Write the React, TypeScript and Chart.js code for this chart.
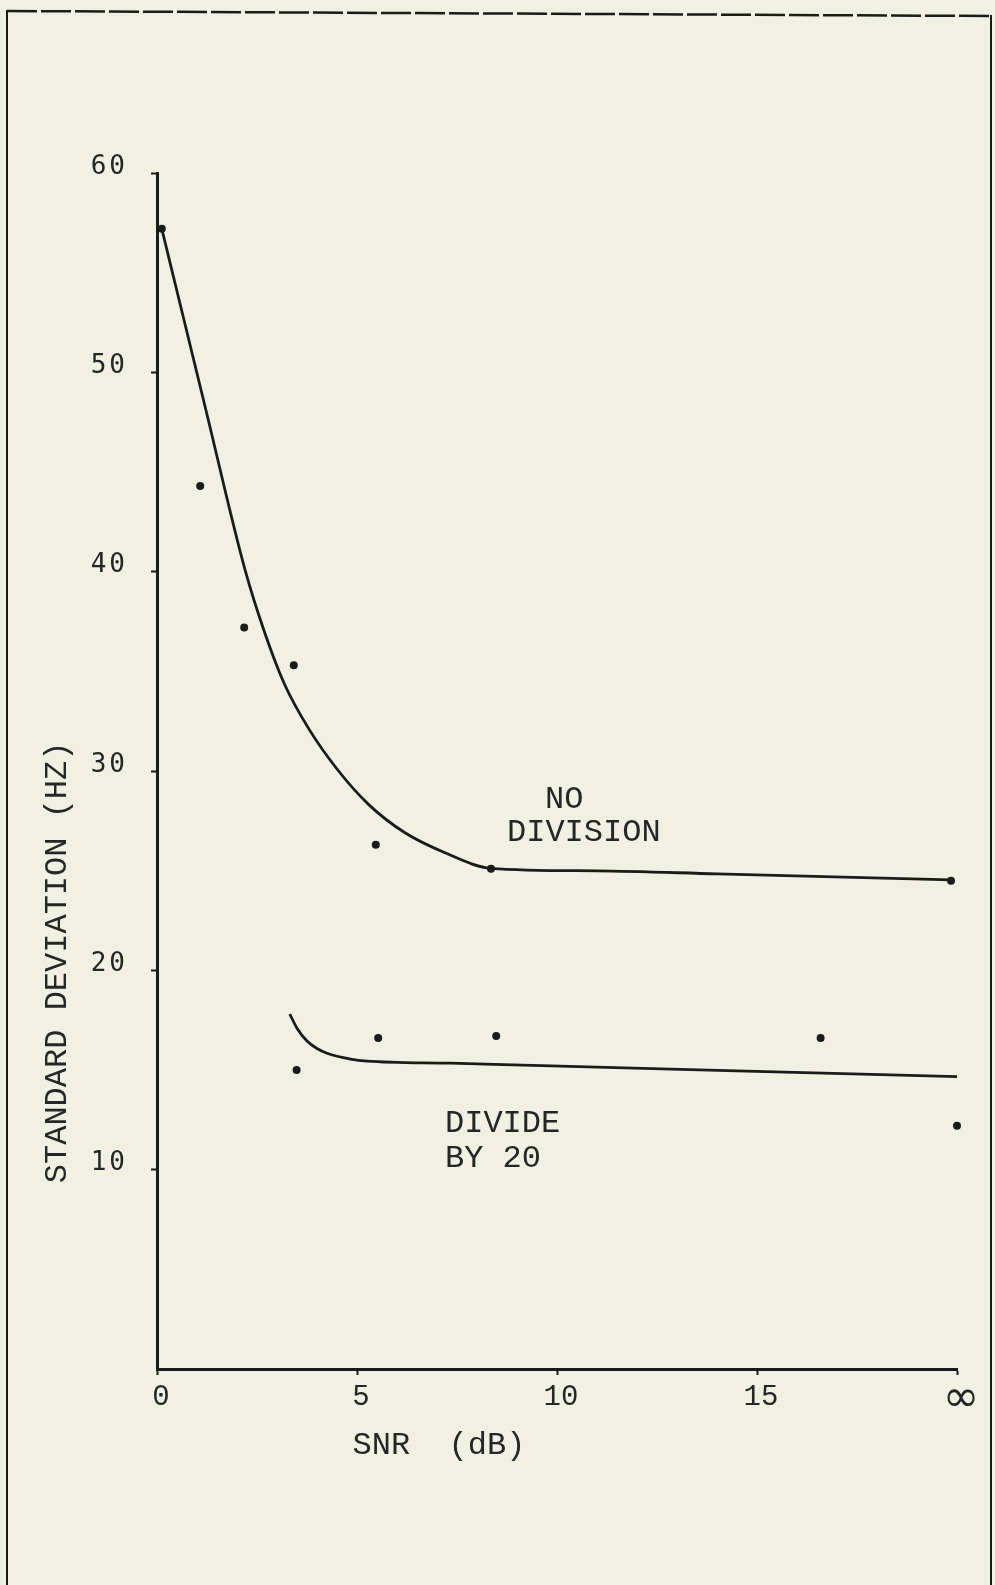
import React, { useEffect, useRef } from 'react';
import { Chart, registerables } from 'chart.js';

Chart.register(...registerables);

// ---- data ----
// x axis: SNR (dB); the "∞" tick is plotted at 20
const xTickValues = [0, 5, 10, 15, 20];
const xTickLabels = ['0', '5', '10', '15', '∞'];
const yTickValues = [10, 20, 30, 40, 50, 60];
const yTickLabels = ['10', '20', '30', '40', '50', '60'];

// measured points, "NO DIVISION"
const noDivPointsX = [0.12, 1.08, 2.18, 3.42, 5.47, 8.35, 19.85];
const noDivPointsY = [57.2, 44.3, 37.2, 35.3, 26.3, 25.1, 24.5];
// measured points, "DIVIDE BY 20"
const divPointsX = [3.49, 5.53, 8.48, 16.59, 20.0];
const divPointsY = [15.0, 16.6, 16.7, 16.6, 12.2];

// hand-drawn fitted curves
const noDivCurveX = [0.12, 1.2, 2.2, 2.7, 3.2, 3.8, 4.5, 5.3, 6.2, 7.2, 8.35, 11, 14, 19.85];
const noDivCurveY = [57.2, 48.3, 40.1, 36.9, 34.3, 32.1, 30.1, 28.3, 26.9, 25.9, 25.12, 24.99, 24.84, 24.54];
const divCurveX = [3.32, 3.5, 3.75, 4.0, 4.25, 4.84, 5.26, 7.34, 9.85, 14.26, 20.0];
const divCurveY = [17.8, 17.1, 16.45, 16.08, 15.84, 15.55, 15.45, 15.34, 15.21, 14.97, 14.67];

const xTitle = 'SNR  (dB)';
const yTitle = 'STANDARD DEVIATION (HZ)';
const curveLabelTexts = ['NO', 'DIVISION', 'DIVIDE', 'BY 20'];

// ---- styling / placement ----
const PAPER = '#f1f1e3';
const INK = '#1b1b1b';
const TEXT = '#262626';
const MONO = '"Liberation Mono", "Courier New", monospace';
const SANSMONO = '"DejaVu Sans Mono", monospace';

// anchors (in data units) for the in-plot labels and the axis titles
const labelAnchors = [
  { x: 9.7, y: 28.55 },
  { x: 8.75, y: 26.9 },
  { x: 7.2, y: 12.3 },
  { x: 7.2, y: 10.55 },
];
const X_TITLE_AT = 7.05;
const Y_TITLE_AT = 20.4;

const zip = (xs: number[], ys: number[]) => xs.map((x, i) => ({ x, y: ys[i] }));

const paperPlugin = {
  id: 'paper',
  beforeDraw(chart: any) {
    const { ctx, width, height } = chart;
    ctx.save();
    ctx.letterSpacing = '0px';
    ctx.fillStyle = PAPER;
    ctx.fillRect(0, 0, width, height);
    ctx.strokeStyle = INK;
    ctx.lineWidth = 2.5;
    ctx.setLineDash([30, 4]);
    ctx.beginPath();
    ctx.moveTo(7, 11);
    ctx.lineTo(991, 16);
    ctx.stroke();
    ctx.setLineDash([]);
    ctx.lineWidth = 2;
    ctx.beginPath();
    ctx.moveTo(7, 10);
    ctx.lineTo(7, height);
    ctx.moveTo(991, 15);
    ctx.lineTo(991, height);
    ctx.stroke();
    ctx.restore();
    ctx.letterSpacing = '0px';
  },
  afterDatasetsDraw(chart: any) {
    // y tick labels (drawn after datasets, z=1) get the typewriter spacing
    chart.ctx.letterSpacing = '3px';
  },
  afterDraw(chart: any) {
    const ctx = chart.ctx;
    ctx.letterSpacing = '0px';
    const xs = chart.scales.x;
    const ys = chart.scales.y;
    const area = chart.chartArea;
    ctx.save();
    ctx.fillStyle = TEXT;
    ctx.font = `32px ${MONO}`;
    ctx.textBaseline = 'middle';
    ctx.textAlign = 'left';
    curveLabelTexts.forEach((t, i) => {
      ctx.fillText(t, xs.getPixelForValue(labelAnchors[i].x), ys.getPixelForValue(labelAnchors[i].y));
    });
    ctx.textAlign = 'center';
    ctx.fillText(xTitle, xs.getPixelForValue(X_TITLE_AT), area.bottom + 77);
    ctx.translate(area.left - 99, ys.getPixelForValue(Y_TITLE_AT));
    ctx.rotate(-Math.PI / 2);
    ctx.fillText(yTitle, 0, 0);
    ctx.restore();
  },
};

export default function App() {
  const ref = useRef<HTMLCanvasElement | null>(null);

  useEffect(() => {
    document.body.style.margin = '0';
    const canvas = ref.current;
    if (!canvas) return;
    const chart = new Chart(canvas, {
      type: 'scatter',
      data: {
        datasets: [
          {
            label: 'NO DIVISION (curve)',
            data: zip(noDivCurveX, noDivCurveY),
            showLine: true,
            borderColor: INK,
            borderWidth: 2.8,
            pointRadius: 0,
            cubicInterpolationMode: 'monotone',
            clip: false,
          },
          {
            label: 'DIVIDE BY 20 (curve)',
            data: zip(divCurveX, divCurveY),
            showLine: true,
            borderColor: INK,
            borderWidth: 2.8,
            pointRadius: 0,
            cubicInterpolationMode: 'monotone',
            clip: false,
          },
          {
            label: 'NO DIVISION',
            data: zip(noDivPointsX, noDivPointsY),
            showLine: false,
            pointRadius: 4,
            pointBackgroundColor: INK,
            pointBorderWidth: 0,
            clip: false,
          },
          {
            label: 'DIVIDE BY 20',
            data: zip(divPointsX, divPointsY),
            showLine: false,
            pointRadius: 4,
            pointBackgroundColor: INK,
            pointBorderWidth: 0,
            clip: false,
          },
        ],
      } as any,
      options: {
        responsive: false,
        animation: false,
        devicePixelRatio: 1,
        events: [],
        layout: { padding: { left: 67, right: 38, top: 173, bottom: 116 } },
        plugins: {
          legend: { display: false },
          tooltip: { enabled: false },
          title: { display: false },
        },
        scales: {
          x: {
            type: 'linear',
            min: 0,
            max: 20,
            afterBuildTicks: (s: any) => {
              s.ticks = xTickValues.map((v) => ({ value: v }));
            },
            afterFit: (s: any) => {
              s.height = 100;
            },
            border: { display: true, color: INK, width: 3 },
            grid: {
              display: true,
              drawOnChartArea: false,
              drawTicks: true,
              tickLength: 6,
              tickColor: INK,
              tickWidth: 2,
              color: INK,
            },
            ticks: {
              z: 0,
              padding: 5,
              labelOffset: 4,
              color: TEXT,
              autoSkip: false,
              maxRotation: 0,
              font: (c: any) =>
                c.index === xTickValues.length - 1
                  ? { family: '"DejaVu Sans", sans-serif', size: 44, lineHeight: 0.9 }
                  : { family: MONO, size: 29 },
              callback: (_v: any, i: number) => xTickLabels[i],
            },
          },
          y: {
            type: 'linear',
            min: 0,
            max: 60,
            afterBuildTicks: (s: any) => {
              s.ticks = yTickValues.map((v) => ({ value: v }));
            },
            afterFit: (s: any) => {
              s.width = 90;
            },
            border: { display: true, color: INK, width: 3 },
            grid: {
              display: true,
              drawOnChartArea: false,
              drawTicks: true,
              tickLength: 6,
              tickColor: INK,
              tickWidth: 2,
              color: INK,
            },
            ticks: {
              z: 1,
              padding: 23,
              labelOffset: -6,
              color: TEXT,
              autoSkip: false,
              font: { family: SANSMONO, size: 26 },
              callback: (_v: any, i: number) => yTickLabels[i],
            },
          },
        },
      } as any,
      plugins: [paperPlugin],
    });
    return () => chart.destroy();
  }, []);

  return (
    <div style={{ position: 'fixed', left: 0, top: 0, width: 995, height: 1585 }}>
      <canvas ref={ref} width={995} height={1585} style={{ display: 'block', width: 995, height: 1585 }} />
    </div>
  );
}
